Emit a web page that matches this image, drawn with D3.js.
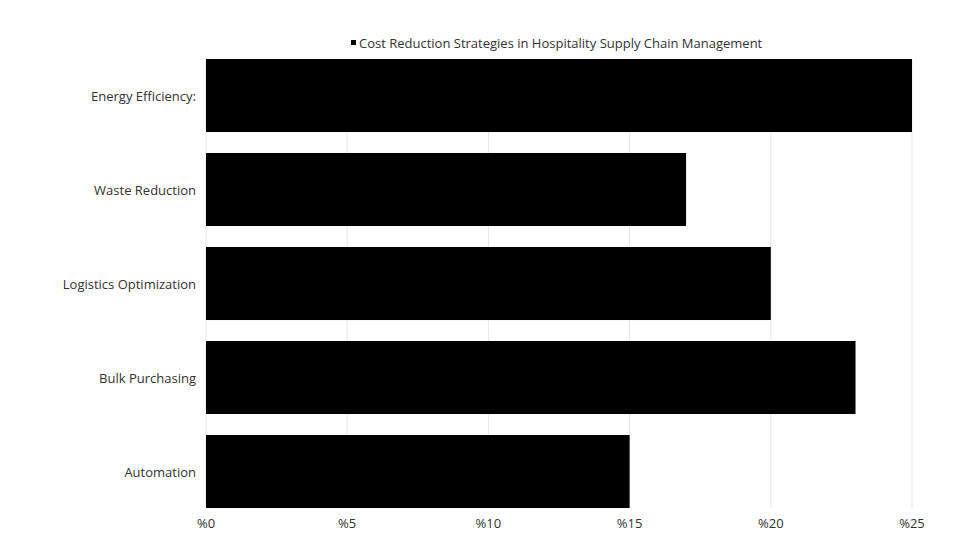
<!DOCTYPE html>
<html>
<head>
<meta charset="utf-8">
<script src="https://cdn.jsdelivr.net/npm/d3@7"></script>
<style>
body { margin: 0; background: #fff; }
text { font-family: "Open Sans", sans-serif; fill: #333; }
</style>
</head>
<body>
<svg id="chart" width="980" height="551"></svg>
<script>
var categories = ["Energy Efficiency:", "Waste Reduction", "Logistics Optimization", "Bulk Purchasing", "Automation"];
var values = [25, 17, 20, 23, 15];
var ticks = [0, 5, 10, 15, 20, 25];
var seriesName = "Cost Reduction Strategies in Hospitality Supply Chain Management";

var svg = d3.select("#chart");
var x = d3.scaleLinear().domain([0, 25]).range([206, 912]);
var y = d3.scaleBand().domain(categories).range([48.5, 518.5]).paddingInner(0.223).paddingOuter(0.1115);

// grid lines
svg.selectAll(".grid").data(ticks).enter().append("line")
    .attr("x1", d => x(d)).attr("x2", d => x(d))
    .attr("y1", 59).attr("y2", 508)
    .attr("stroke", "#e6e6e6").attr("stroke-width", 1);

svg.selectAll(".bar").data(values).enter().append("rect")
    .attr("x", x(0))
    .attr("y", (d, i) => y(categories[i]))
    .attr("width", d => x(d) - x(0))
    .attr("height", y.bandwidth())
    .attr("fill", "#000");

// x tick labels
svg.selectAll(".xt").data(ticks).enter().append("text")
    .attr("x", d => x(d)).attr("y", 528)
    .attr("text-anchor", "middle").attr("font-size", 13)
    .text(d => "%" + d);

// y labels
svg.selectAll(".yt").data(categories).enter().append("text")
    .attr("x", 196).attr("y", d => y(d) + y.bandwidth() / 2 + 5)
    .attr("text-anchor", "end").attr("font-size", 13)
    .text(d => d);

// legend
var lg = svg.append("g");
var lt = lg.append("text").attr("x", 359).attr("y", 48).attr("font-size", 13).text(seriesName);
lg.append("rect").attr("x", 351).attr("y", 40).attr("width", 5).attr("height", 5).attr("fill", "#000");
</script>
</body>
</html>
